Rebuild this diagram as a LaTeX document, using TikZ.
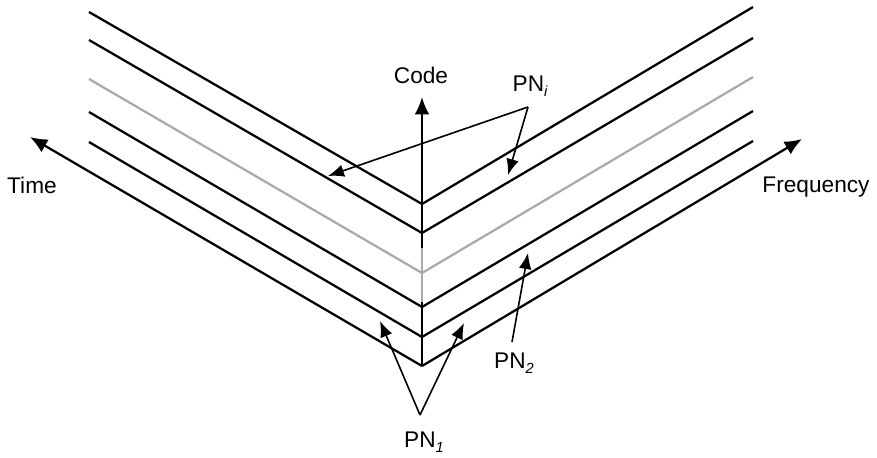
\documentclass[tikz,border=0pt]{standalone}
\usepackage{fontspec}
\setmainfont{Liberation Sans}
\usetikzlibrary{arrows.meta}
\definecolor{lightline}{RGB}{170,170,170}
\newcommand{\pnsub}[1]{\raisebox{-0.45ex}{\fontsize{11}{11}\selectfont\itshape #1}}
\tikzset{
  layer/.style={line width=1.7pt},
  axis/.style={line width=1.7pt,-{Latex[length=13pt,width=11pt]}},
  pointer/.style={line width=1.2pt,-{Latex[length=12pt,width=9.5pt]}},
  lbl/.style={font=\fontsize{17}{20}\selectfont,inner sep=0pt}
}
\begin{document}
\begin{tikzpicture}[x=0.75pt,y=-0.75pt]
\useasboundingbox (0,0) rectangle (877,457);
% stacked code layers
\foreach \yl/\yv/\yr in {12/204/7,40/233/38,112/307/111,142/337/141}
  \draw[layer] (89,\yl) -- (422,\yv) -- (753,\yr);
\draw[layer,lightline] (89,79) -- (422,273) -- (753,77);
% axes
\coordinate (origin) at (422,366);
\coordinate (timeend) at (30,137);
\coordinate (freqend) at (802,139);
\coordinate (codeend) at (422,97);
\draw[axis] (origin) -- (timeend);
\draw[axis] (origin) -- (freqend);
\draw[axis] (origin) -- (codeend);
\draw[layer,lightline] (422,248) -- (422,302);
\node[lbl] (time) at (32,185) {Time};
\node[lbl] (freq) at (816,187) {Frequency};
\node[lbl] (code) at (421,75) {Code};
% PN labels and pointers
\node[lbl] (pni) at (530,86) {PN\pnsub{i}};
\node[lbl] (pntwo) at (514,363) {PN\pnsub{2}};
\node[lbl] (pnone) at (424,442) {PN\pnsub{1}};
\coordinate (pnifork) at (528,107);
\coordinate (pnileft) at (328,176);
\coordinate (pniright) at (508,175);
\coordinate (pntwotail) at (512,342);
\coordinate (pntwotip) at (528,253);
\coordinate (pnonefork) at (420,415);
\coordinate (pnoneleft) at (380,321);
\coordinate (pnoneright) at (464,323);
\draw[pointer] (pnifork) -- (pnileft);
\draw[pointer] (pnifork) -- (pniright);
\draw[pointer] (pntwotail) -- (pntwotip);
\draw[pointer] (pnonefork) -- (pnoneleft);
\draw[pointer] (pnonefork) -- (pnoneright);
\end{tikzpicture}
\end{document}
